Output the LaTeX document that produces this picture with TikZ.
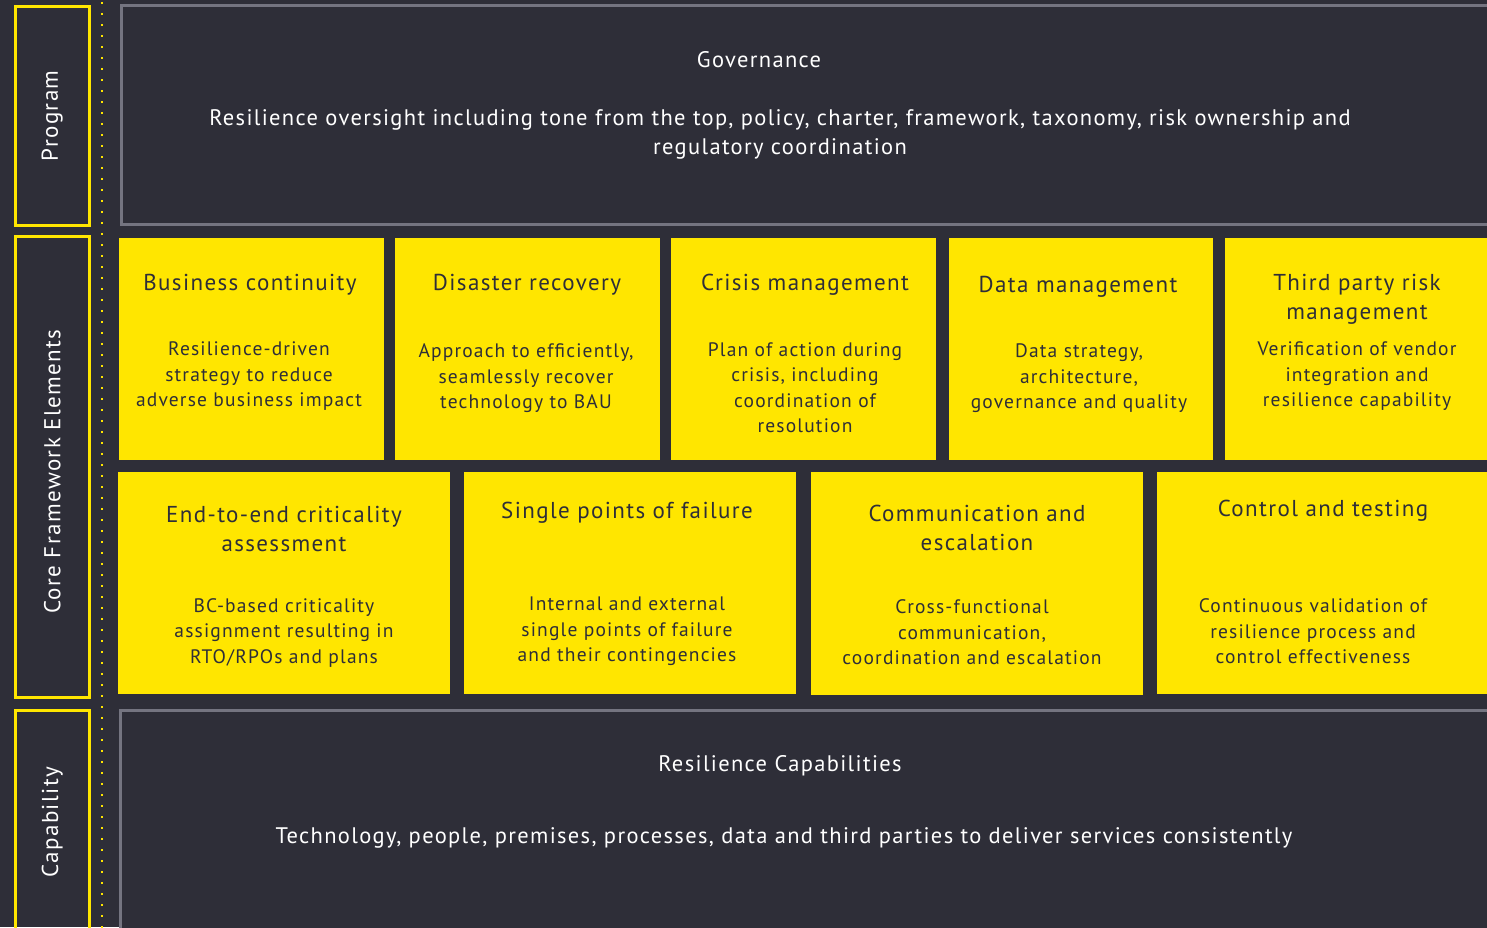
\documentclass[tikz,border=0pt]{standalone}
\usepackage{fontspec}
\setmainfont{PT Sans}[LetterSpace=6]
\definecolor{eydark}{HTML}{2E2E38}
\definecolor{eyyellow}{HTML}{FFE600}
\definecolor{eygray}{HTML}{747480}

\begin{document}
\begin{tikzpicture}[x=1pt,y=-1pt,
  block/.style={fill=eyyellow, inner sep=0pt, anchor=north west},
  panel/.style={draw=eygray, line width=2.5pt, fill=eydark, inner sep=0pt, anchor=north west},
  tier/.style={draw=eyyellow, line width=2.5pt, inner sep=0pt, anchor=north west},
  ttl/.style={text=eydark, font=\fontsize{23}{29}\selectfont, align=center, yshift=-2.5pt},
  txt/.style={text=eydark, font=\fontsize{19.5}{25.5}\selectfont, align=center, yshift=-2.5pt},
  lbl/.style={text=white, font=\fontsize{22.5}{29}\selectfont, align=center, yshift=-2.5pt},
  side/.style={text=white, font=\fontsize{23}{28}\selectfont, rotate=90}]
\useasboundingbox (0,0) rectangle (1487,927);
\clip (0,0) rectangle (1487,927);
\fill[eydark] (0,0) rectangle (1487,927);
% tiers on the left
\node[tier, minimum width=74, minimum height=219] (program) at (14,5) {};
\node[tier, minimum width=74, minimum height=461] (core) at (14,235) {};
\node[tier, minimum width=74, minimum height=240] (capability) at (14,709) {};
\node[side] at (program.center) {Program};
\node[side] at ([yshift=-5pt]core.center) {Core Framework Elements};
\node[side] at ([yshift=8pt]capability.center) {Capability};
\draw[eyyellow, line width=2.2pt, dash pattern=on 2.2pt off 8.8pt] (102,2) -- (102,930);
% governance
\node[panel, minimum width=1400, minimum height=219] (gov) at (120,4) {};
\node[lbl] (govtitle) at (759,57) {Governance};
\node[lbl] (govtext) at (780,132) {Resilience oversight including tone from the top, policy, charter, framework, taxonomy, risk ownership and\\regulatory coordination};
% first row
\node[block, minimum width=265, minimum height=222] (bc) at (119,238) {};
\node[block, minimum width=265, minimum height=222] (dr) at (395,238) {};
\node[block, minimum width=265, minimum height=222] (cm) at (671,238) {};
\node[block, minimum width=264, minimum height=222] (dm) at (949,238) {};
\node[block, minimum width=300, minimum height=222] (tp) at (1225,238) {};
\node[ttl] (bctitle) at (250,282) {Business continuity};
\node[txt] (bctext) at (249,374) {Resilience-driven\\strategy to reduce\\adverse business impact};
\node[ttl] (drtitle) at (527,282) {Disaster recovery};
\node[txt] (drtext) at (526,376) {Approach to efficiently,\\seamlessly recover\\technology to BAU};
\node[ttl] (cmtitle) at (805,282) {Crisis management};
\node[txt] (cmtext) at (805,385) {Plan of action during\\crisis, including\\coordination of\\resolution};
\node[ttl] (dmtitle) at (1078,284) {Data management};
\node[txt] (dmtext) at (1079,376) {Data strategy,\\architecture,\\governance and quality};
\node[ttl] (tptitle) at (1357,297) {Third party risk\\management};
\node[txt] (tptext) at (1357,374) {Verification of vendor\\integration and\\resilience capability};
% second row
\node[block, minimum width=332, minimum height=222] (ee) at (118,472) {};
\node[block, minimum width=332, minimum height=222] (sp) at (464,472) {};
\node[block, minimum width=332, minimum height=223] (ce) at (811,472) {};
\node[block, minimum width=340, minimum height=222] (ct) at (1157,472) {};
\node[ttl] (eetitle) at (284,526) {End-to-end criticality\\assessment};
\node[txt] (eetext) at (284,630) {BC-based criticality\\assignment resulting in\\RTO/RPOs and plans};
\node[ttl] (sptitle) at (627,510) {Single points of failure};
\node[txt] (sptext) at (627,629) {Internal and external\\single points of failure\\and their contingencies};
\node[ttl] (cetitle) at (977,525) {Communication and\\escalation};
\node[txt] (cetext) at (972,630) {Cross-functional\\communication,\\coordination and escalation};
\node[ttl] (cttitle) at (1323,508) {Control and testing};
\node[txt] (cttext) at (1313,629) {Continuous validation of\\resilience process and\\control effectiveness};
% capabilities
\node[panel, minimum width=1400, minimum height=240] (cap) at (119,709) {};
\node[lbl] (captitle) at (780,763) {Resilience Capabilities};
\node[lbl] (captext) at (784,835) {Technology, people, premises, processes, data and third parties to deliver services consistently};
\end{tikzpicture}
\end{document}
